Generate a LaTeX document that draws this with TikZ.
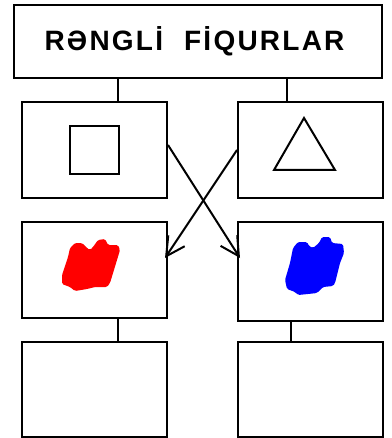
\documentclass[tikz,border=0pt]{standalone}
\usepackage{fontspec}
\newfontfamily\titlefont[LetterSpace=8]{Liberation Sans}
\usetikzlibrary{arrows.meta,calc}
\begin{document}
\begin{tikzpicture}[x=1pt,y=-1pt,
  line width=2pt,
  box/.style={draw=black, line width=2pt, inner sep=0pt, minimum width=145pt},
  link/.style={draw=black, line width=2pt},
  arr/.style={draw=black, line width=2pt, -{Straight Barb[angle=56:21pt,line width=2pt]}}]
\useasboundingbox (0,0) rectangle (391,438);
\node[box, minimum width=368pt, minimum height=73pt] (title) at (198,41.5)
  {\raisebox{6pt}{\titlefont\bfseries\fontsize{28}{32}\selectfont RƏNGLİ\hspace{21pt}FİQURLAR}\hspace*{7pt}};
\node[box, minimum height=96pt] (b1) at (94.5,150) {};
\node[box, minimum height=96pt] (b2) at (310.5,150) {};
\node[box, minimum height=96pt] (c1) at (94.5,270) {};
\node[box, minimum height=99pt] (c2) at (310.5,271.5) {};
\node[box, minimum height=95pt] (d1) at (94.5,389.5) {};
\node[box, minimum height=95pt] (d2) at (310.5,389.5) {};
% inner figures
\node[draw=black, line width=2pt, minimum width=49pt, minimum height=48pt, inner sep=0pt] (sq) at (94.5,150) {};
\draw[line width=2pt, line join=miter] (304,118) -- (335,170) -- (274,170) -- cycle;
% tree links
\coordinate (t1) at (118,0);
\coordinate (t2) at (287,0);
\coordinate (t3) at (118,0);
\coordinate (t4) at (291,0);
\draw[link] (t1 |- title.south) -- (t1 |- b1.north);
\draw[link] (t2 |- title.south) -- (t2 |- b2.north);
\draw[link] (t3 |- c1.south) -- (t3 |- d1.north);
\draw[link] (t4 |- c2.south) -- (t4 |- d2.north);
% crossing arrows
\coordinate (y1) at (0,145);
\coordinate (y2) at (0,150);
\coordinate (y3) at (0,258);
\draw[arr] (b1.east |- y1) -- ($(c2.west |- y3)+(3,0)$);
\draw[arr] (b2.west |- y2) -- ($(c1.east |- y3)+(-3,0)$);
% colour scribbles
\fill[red, rounded corners=1.5pt] (75,243) -- (82,243) -- (87,248) -- (90,250) -- (93,247) -- (98,240) -- (105,239) -- (108,245) -- (118,245) -- (120,250) -- (117,260) -- (110,283) -- (107,287) -- (95,287) -- (87,289) -- (75,291) -- (70,287) -- (62,284) -- (62,275) -- (68,257) -- (70,248) -- cycle;
\fill[blue, rounded corners=1.5pt] (298,242) -- (307,242) -- (309,246) -- (313,248) -- (319,243) -- (322,237) -- (330,237) -- (332,243) -- (343,244) -- (344,253) -- (340,263) -- (335,283) -- (333,286) -- (323,287) -- (317,293) -- (308,294) -- (298,295) -- (295,292) -- (287,289) -- (285,280) -- (290,263) -- (293,248) -- cycle;
\end{tikzpicture}
\end{document}
